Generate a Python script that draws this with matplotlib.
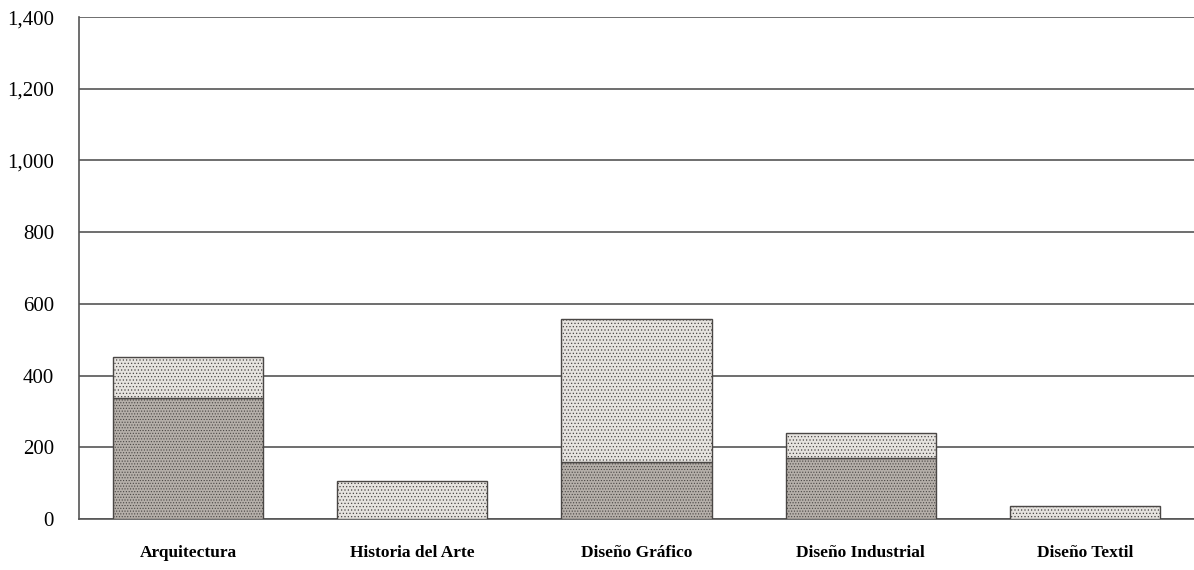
import matplotlib
matplotlib.use("Agg")
import matplotlib.pyplot as plt
import numpy as np

categories = ["Arquitectura", "Historia del Arte", "Diseño Gráfico", "Diseño Industrial", "Diseño Textil"]
lower_values = [337, 0, 160, 169, 0]
upper_values = [115, 106, 397, 70, 37]
yticks = [0, 200, 400, 600, 800, 1000, 1200, 1400]
ytick_labels = ["0", "200", "400", "600", "800", "1,000", "1,200", "1,400"]

plt.rcParams['hatch.linewidth'] = 0.5
fig = plt.figure(figsize=(11.94, 5.70), dpi=100)
ax = fig.add_axes([0.0662, 0.0895, 0.9338, 0.8805])

x = np.arange(len(categories))
w = 0.67
plt.rcParams['hatch.color'] = '#8c8783'
lower = ax.bar(x, lower_values, width=w, color='#b5afa9', edgecolor='#4a4745', linewidth=1.0,
               hatch='......', zorder=3)
plt.rcParams['hatch.color'] = '#9a9591'
upper = ax.bar(x, upper_values, width=w, bottom=lower_values, color='#e6e3df', edgecolor='#4a4745',
               linewidth=1.0, hatch='.....', zorder=3)

ax.set_xlim(-0.487, 4.487)
ax.set_ylim(0, 1400)
ax.set_yticks(yticks)
ax.set_yticklabels(ytick_labels, fontsize=15, family='Liberation Serif')
ax.set_xticks(x)
ax.set_xticklabels(categories, fontsize=12.5, fontweight='bold', family='Liberation Serif')
ax.tick_params(axis='x', length=0, pad=19)
ax.tick_params(axis='y', length=0, pad=18)
ax.yaxis.grid(True, color='#555555', linewidth=1.2, zorder=0)
ax.set_axisbelow(True)
for s in ['top', 'right']:
    ax.spines[s].set_visible(False)
ax.spines['left'].set_color('#555555')
ax.spines['left'].set_linewidth(1.2)
ax.spines['bottom'].set_color('#555555')
ax.spines['bottom'].set_linewidth(1.2)

fig.savefig("out.png", dpi=100, facecolor='white')
